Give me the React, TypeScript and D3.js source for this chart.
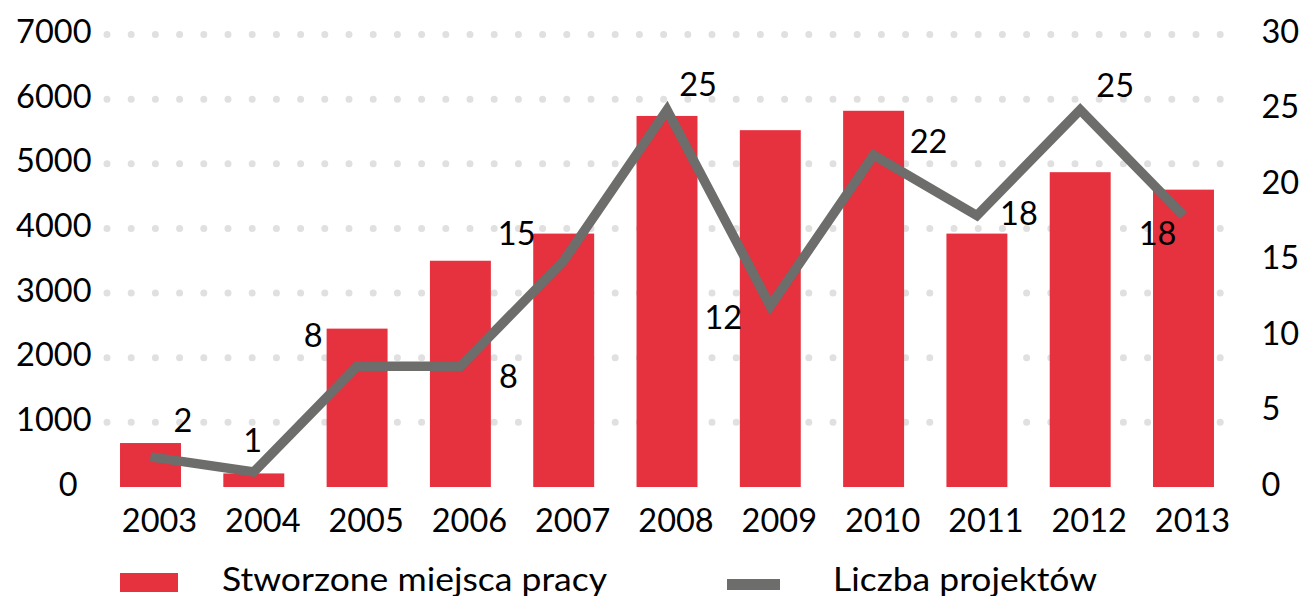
import React from "react";
import * as d3 from "d3";

const years = ["2003", "2004", "2005", "2006", "2007", "2008", "2009", "2010", "2011", "2012", "2013"];
const jobs = [680, 210, 2450, 3500, 3920, 5740, 5520, 5820, 3920, 4870, 4600];
const projects = [2, 1, 8, 8, 15, 25, 12, 22, 18, 25, 18];
const leftTicks = [0, 1000, 2000, 3000, 4000, 5000, 6000, 7000];
const rightTicks = [0, 5, 10, 15, 20, 25, 30];
const seriesNames = ["Stworzone miejsca pracy", "Liczba projektów"];

// label placement offsets (dx, dy) relative to each line point
const labelOffsets: [number, number][] = [
  [32.5, -24.8], [-1, -20], [-44, -19], [48, 22], [-47, -16], [31, -14],
  [-47, 23], [55, -2], [42, 9.5], [35, -13], [-26, 29.5],
];

const W = 1300, H = 596;
const RED = "#e6313e";
const GRAY = "#6d6d6b";
const DOT = "#e0e0e0";
const FONT = "Lato, 'Open Sans', sans-serif";
const FS = 32.5;

export default function App() {
  const x = d3.scaleBand<string>().domain(years).range([98.85, 1235.15]).paddingInner(0.41).paddingOuter(0.205);
  const yL = d3.scaleLinear().domain([0, 7000]).range([487, 34.5]);
  const yR = d3.scaleLinear().domain([0, 30]).range([487, 34.5]);
  const cx = (d: string) => (x(d) ?? 0) + x.bandwidth() / 2;
  const line = d3.line<number>().x((_, i) => cx(years[i])).y((v) => yR(v));

  return (
    <svg width={W} height={H} style={{ position: "absolute", left: 0, top: 0 }} fontFamily={FONT}>
      <rect width={W} height={H} fill="#fff" />
      {leftTicks.slice(1).map((t) => (
        <line key={"g" + t} x1={107} x2={1221} y1={yL(t)} y2={yL(t)} stroke={DOT} strokeWidth={7}
          strokeLinecap="round" strokeDasharray="0 24.2" />
      ))}
      {leftTicks.map((t) => (
        <text key={"l" + t} x={t === 0 ? 77.5 : 91.5} y={yL(t) + 8.5} textAnchor="end" fontSize={FS} fill="#000">{t}</text>
      ))}
      {rightTicks.map((t) => (
        <text key={"r" + t} x={1261.5} y={yR(t) + 8.5} textAnchor="start" fontSize={FS} fill="#000">{t}</text>
      ))}
      {years.map((yr, i) => (
        <rect key={"b" + yr} x={x(yr)} y={yL(jobs[i])} width={x.bandwidth()} height={yL(0) - yL(jobs[i])} fill={RED} />
      ))}
      <path d={line(projects) ?? ""} fill="none" stroke={GRAY} strokeWidth={9.5} strokeLinejoin="miter" strokeMiterlimit={10} />
      {projects.map((v, i) => (
        <text key={"p" + i} x={cx(years[i]) + labelOffsets[i][0]} y={yR(v) + labelOffsets[i][1]} textAnchor="middle" fontSize={FS} fill="#000">{v}</text>
      ))}
      {years.map((yr) => (
        <text key={"x" + yr} x={cx(yr) + 9} y={532} textAnchor="middle" fontSize={FS} fill="#000">{yr}</text>
      ))}
      <rect x={120} y={573} width={58} height={19} fill={RED} />
      <text x={222} y={590.5} fontSize={FS} fill="#000" textLength={385} lengthAdjust="spacingAndGlyphs">{seriesNames[0]}</text>
      <rect x={727} y={579} width={53} height={11} fill={GRAY} />
      <text x={833} y={590.5} fontSize={FS} fill="#000" textLength={264} lengthAdjust="spacingAndGlyphs">{seriesNames[1]}</text>
    </svg>
  );
}
